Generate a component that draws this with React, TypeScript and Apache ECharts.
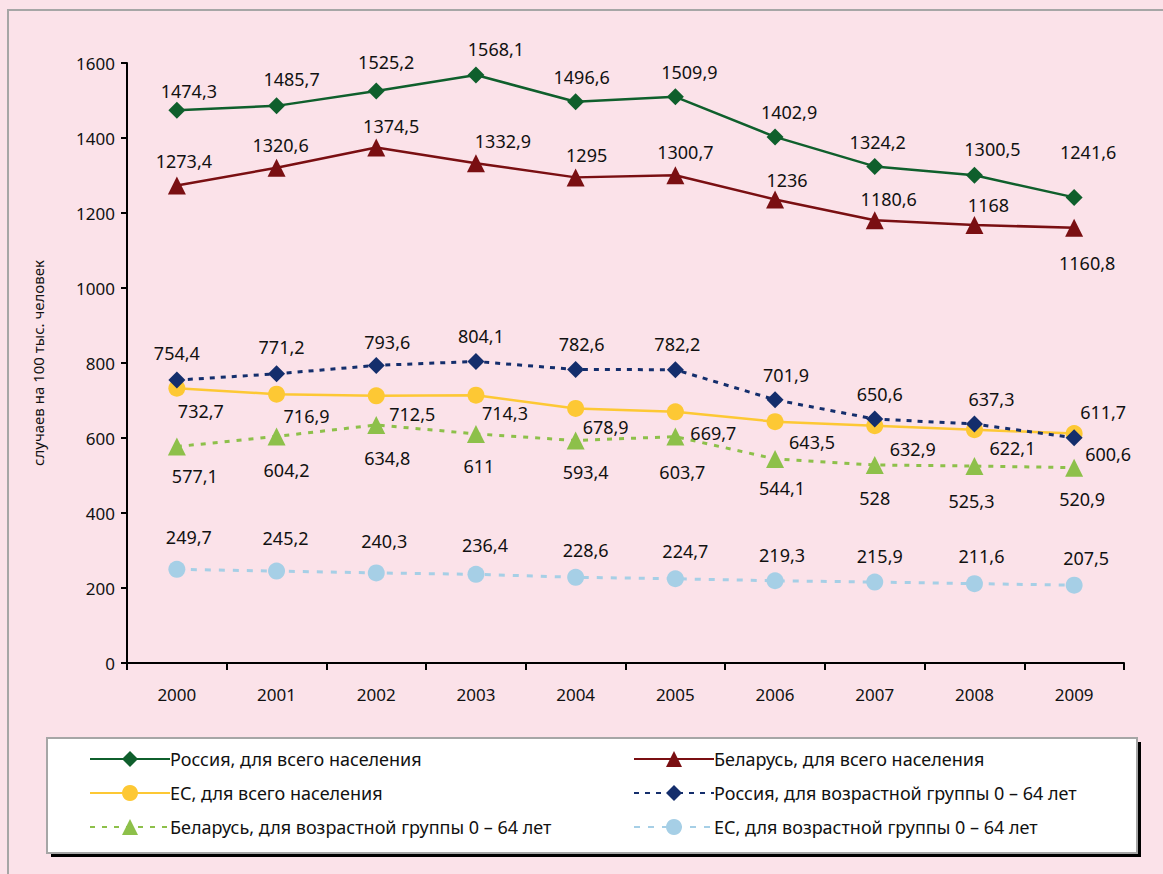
import React, { useEffect, useRef } from "react";
import * as echarts from "echarts";

const years = ["2000", "2001", "2002", "2003", "2004", "2005", "2006", "2007", "2008", "2009"];

const ruTotal = [1474.3, 1485.7, 1525.2, 1568.1, 1496.6, 1509.9, 1402.9, 1324.2, 1300.5, 1241.6];
const byTotal = [1273.4, 1320.6, 1374.5, 1332.9, 1295, 1300.7, 1236, 1180.6, 1168, 1160.8];
const euTotal = [732.7, 716.9, 712.5, 714.3, 678.9, 669.7, 643.5, 632.9, 622.1, 611.7];
const ru064 = [754.4, 771.2, 793.6, 804.1, 782.6, 782.2, 701.9, 650.6, 637.3, 600.6];
const by064 = [577.1, 604.2, 634.8, 611, 593.4, 603.7, 544.1, 528, 525.3, 520.9];
const eu064 = [249.7, 245.2, 240.3, 236.4, 228.6, 224.7, 219.3, 215.9, 211.6, 207.5];

const seriesNames = [
  "Россия, для всего населения",
  "Беларусь, для всего населения",
  "ЕС, для всего населения",
  "Россия, для возрастной группы 0 – 64 лет",
  "Беларусь, для возрастной группы 0 – 64 лет",
  "ЕС, для возрастной группы 0 – 64 лет",
];

const yAxisTitle = "случаев на 100 тыс. человек";

// label offsets (dx, dy) from the marker centre
const ruTotalLbl = [[12, -19], [15, -27], [10, -29], [20, -26], [6, -25], [14, -25], [14, -25], [3, -24], [18, -26], [14, -45]];
const byTotalLbl = [[7, -24], [4, -23], [15, -22], [27, -22], [11, -22], [10, -23], [12, -20], [14, -21], [14, -20], [13, 35]];
const euTotalLbl = [[24, 23], [30, 22], [36, 18], [29, 18], [30, 19], [38, 21], [37, 20], [38, 23], [38, 18], [29, -22]];
const ru064Lbl = [[0, -27], [5, -27], [11, -23], [5, -25], [6, -26], [2, -26], [11, -25], [5, -25], [17, -25], [34, 16]];
const by064Lbl = [[18, 29], [10, 34], [11, 33], [3, 32], [10, 32], [7, 35], [7, 29], [0, 33], [-3, 35], [8, 31]];
const eu064Lbl = [[12, -32], [9, -33], [8, -32], [9, -29], [10, -27], [10, -28], [7, -26], [5, -26], [7, -28], [12, -27]];

const FONT = "'Noto Sans', 'Open Sans', sans-serif";

function fmt(v: number) {
  return String(v).replace(".", ",");
}

function makeSeries(
  name: string,
  values: number[],
  offsets: number[][],
  color: string,
  symbol: string,
  symbolSize: number,
  lineType: any,
  lineWidth: number
) {
  return {
    name,
    type: "line",
    data: values.map((v, i) => ({
      value: v,
      label: { offset: offsets[i] },
    })),
    symbol,
    symbolSize,
    showAllSymbol: true,
    itemStyle: { color },
    lineStyle: { color, width: lineWidth, type: lineType },
    label: {
      show: true,
      position: "inside",
      align: "center",
      verticalAlign: "middle",
      fontFamily: FONT,
      fontSize: 18,
      color: "#111",
      formatter: (p: any) => fmt(p.value),
    },
    emphasis: { disabled: true },
  };
}

export default function App() {
  const ref = useRef<HTMLDivElement>(null);

  useEffect(() => {
    if (!ref.current) return;
    const chart = echarts.init(ref.current, undefined, { renderer: "svg" });
    const legendCommon = {
      orient: "vertical",
      itemWidth: 80,
      itemHeight: 20,
      itemGap: 16,
      textStyle: { fontFamily: FONT, fontSize: 18, color: "#111", padding: [0, 0, 0, -5] },
      selectedMode: false,
    };
    chart.setOption({
      animation: false,
      backgroundColor: "#fbe2e9",
      textStyle: { fontFamily: FONT },
      grid: { left: 127, top: 63, right: 39, bottom: 211, containLabel: false },
      xAxis: {
        type: "category",
        data: years,
        boundaryGap: true,
        axisLine: { lineStyle: { color: "#000", width: 2 } },
        axisTick: { show: true, length: 7, lineStyle: { color: "#000", width: 2 } },
        axisLabel: { fontFamily: FONT, fontSize: 17, color: "#111", margin: 23 },
        splitLine: { show: false },
      },
      yAxis: {
        type: "value",
        min: 0,
        max: 1600,
        interval: 200,
        name: yAxisTitle,
        nameLocation: "middle",
        nameGap: 82,
        nameTextStyle: { fontFamily: FONT, fontSize: 15, color: "#111" },
        axisLine: { show: true, lineStyle: { color: "#000", width: 2 } },
        axisTick: { show: true, length: 6, lineStyle: { color: "#000", width: 2 } },
        axisLabel: {
          fontFamily: FONT,
          fontSize: 17,
          color: "#111",
          margin: 12,
          formatter: (v: number) => String(v),
        },
        splitLine: { show: false },
      },
      legend: [
        {
          ...legendCommon,
          left: 84,
          top: 745,
          data: [seriesNames[0], seriesNames[2], seriesNames[4]],
        },
        {
          ...legendCommon,
          left: 628,
          top: 745,
          data: [seriesNames[1], seriesNames[3], seriesNames[5]],
        },
      ],
      graphic: [
        {
          type: "rect",
          z: -10,
          shape: { x: 8, y: 10, width: 1200, height: 900 },
          style: { fill: "none", stroke: "#a6a6a6", lineWidth: 2 },
          silent: true,
        },
        {
          type: "rect",
          z: 1,
          shape: { x: 51, y: 742, width: 1090, height: 115 },
          style: { fill: "#000" },
          silent: true,
        },
        {
          type: "rect",
          z: 2,
          shape: { x: 47, y: 738, width: 1090, height: 115 },
          style: { fill: "#fff", stroke: "#a6a6a6", lineWidth: 2 },
          silent: true,
        },
      ],
      series: [
        makeSeries(seriesNames[0], ruTotal, ruTotalLbl, "#0f5f2c", "diamond", 17, "solid", 2.5),
        makeSeries(seriesNames[1], byTotal, byTotalLbl, "#7a0f12", "triangle", 18, "solid", 2.5),
        makeSeries(seriesNames[2], euTotal, euTotalLbl, "#fdc834", "circle", 17, "solid", 2.5),
        makeSeries(seriesNames[3], ru064, ru064Lbl, "#142e6c", "diamond", 17, [5, 6], 3),
        makeSeries(seriesNames[4], by064, by064Lbl, "#8dc04a", "triangle", 18, [5, 7], 3),
        makeSeries(seriesNames[5], eu064, eu064Lbl, "#a6cfe6", "circle", 17, [6, 8], 3),
      ],
    });
    return () => chart.dispose();
  }, []);

  return (
    <div
      ref={ref}
      style={{ position: "absolute", left: 0, top: 0, width: 1163, height: 874 }}
    />
  );
}
